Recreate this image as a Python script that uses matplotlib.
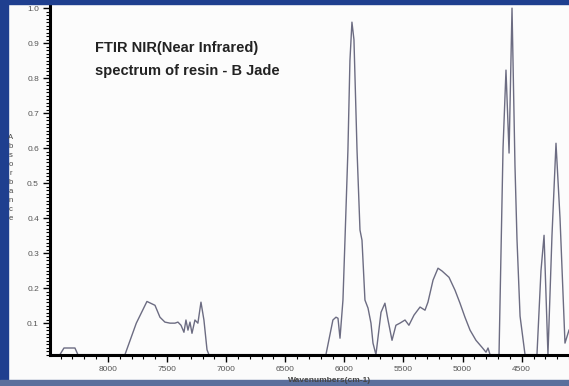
import numpy as np
import matplotlib
matplotlib.use("Agg")
from matplotlib import pyplot as plt
from matplotlib.patches import Rectangle
from matplotlib.ticker import MultipleLocator, FormatStrFormatter

# spectrum (wavenumber cm-1, absorbance)
wavenum = [8490, 8406, 8372, 8279, 8254, 7856, 7760, 7670, 7602, 7560, 7518,
           7475, 7433, 7408, 7382, 7357, 7340, 7323, 7306, 7289, 7264, 7239,
           7213, 7188, 7162, 7146, 6156, 6097, 6071, 6054, 6037, 6012, 5995,
           5970, 5953, 5936, 5919, 5893, 5868, 5851, 5826, 5800, 5775, 5758,
           5733, 5690, 5657, 5631, 5597, 5564, 5530, 5487, 5454, 5411, 5360,
           5318, 5293, 5250, 5208, 5174, 5115, 5064, 5022, 4980, 4937, 4887,
           4836, 4802, 4785, 4768, 4751, 4692, 4658, 4633, 4607, 4582, 4557,
           4540, 4514, 4472, 4371, 4337, 4311, 4278, 4244, 4210, 4176, 4134,
           4100]
absorb = [0.01, 0.01, 0.029, 0.029, 0.01, 0.01, 0.10, 0.162, 0.151, 0.117,
          0.103, 0.10, 0.10, 0.103, 0.094, 0.074, 0.109, 0.08, 0.103, 0.071,
          0.109, 0.10, 0.16, 0.109, 0.024, 0.01, 0.01, 0.109, 0.117, 0.114,
          0.057, 0.166, 0.337, 0.594, 0.85, 0.96, 0.91, 0.594, 0.366, 0.337,
          0.166, 0.143, 0.10, 0.043, 0.01, 0.131, 0.157, 0.109, 0.051, 0.094,
          0.10, 0.109, 0.094, 0.123, 0.146, 0.137, 0.16, 0.223, 0.257, 0.249,
          0.231, 0.194, 0.157, 0.117, 0.08, 0.051, 0.031, 0.017, 0.029, 0.01,
          0.01, 0.01, 0.60, 0.823, 0.586, 1.0, 0.55, 0.34, 0.12, 0.01, 0.01,
          0.25, 0.351, 0.01, 0.35, 0.614, 0.40, 0.043, 0.08]

title_txt = "FTIR NIR(Near Infrared)\nspectrum of resin - B Jade"
ylab = "Absorbance"
xlab = "Wavenumbers(cm-1)"

plt.rcParams['font.family'] = ['Liberation Sans', 'DejaVu Sans']

fig = plt.figure(figsize=(5.69, 3.86), dpi=100)
fig.patch.set_facecolor('#fbfbfb')

# scan border
fig.patches.append(Rectangle((0, 0), 8/569, 1, transform=fig.transFigure,
                             color='#1f3f8f', zorder=0))
fig.patches.append(Rectangle((0, 1 - 4/386), 1, 4/386, transform=fig.transFigure,
                             color='#1f3f8f', zorder=0))
fig.patches.append(Rectangle((0, 0), 1, 6/386, transform=fig.transFigure,
                             color='#5a6f9c', zorder=0))

ax = fig.add_axes([50/569, 1 - 355/386, 1 - 50/569, 350/386])
ax.set_facecolor('#fcfcfc')
ax.plot(wavenum, absorb, color='#6c6c82', lw=1.0)

ax.set_xlim(8490, 4100)
ax.set_ylim(0.009, 1.009)
ax.xaxis.set_major_locator(MultipleLocator(500))
ax.xaxis.set_minor_locator(MultipleLocator(100))
ax.yaxis.set_major_locator(MultipleLocator(0.1))
ax.yaxis.set_minor_locator(MultipleLocator(0.01))
ax.yaxis.set_major_formatter(FormatStrFormatter('%.1f'))

for s in ['top', 'right']:
    ax.spines[s].set_visible(False)
ax.spines['left'].set_linewidth(2.2)
ax.spines['bottom'].set_linewidth(2.2)
ax.tick_params(which='major', length=5, width=1, labelsize=6,
               labelcolor='#555555')
ax.tick_params(axis='y', which='major', pad=3)
ax.tick_params(axis='x', which='major', pad=3)
ax.tick_params(which='minor', length=3, width=0.8)

ax.text(0.087, 0.898, title_txt, transform=ax.transAxes, fontsize=10.5,
        color='#222222', va='top', linespacing=1.85, weight='bold')

fig.text(330/569, 1 - 380/386, xlab, ha='center', va='center',
         fontsize=6, color='#444444', weight='bold')
fig.text(11/569, 1 - 178/386, "\n".join(ylab), ha='center', va='center',
         fontsize=5.5, color='#444444', linespacing=1.4)

fig.savefig("out.png", dpi=100)
